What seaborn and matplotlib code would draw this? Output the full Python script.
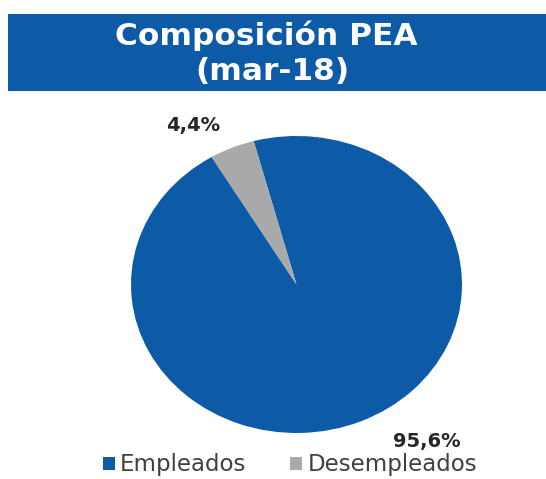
import matplotlib
matplotlib.use("Agg")
import matplotlib.pyplot as plt
from matplotlib.patches import Rectangle
import seaborn as sns

categories = ["Empleados", "Desempleados"]
shares = [95.6, 4.4]
value_labels = ["95,6%", "4,4%"]
title_lines = ["Composición PEA", "(mar-18)"]

sns.set_theme(style="white")
plt.rcParams["font.family"] = ["DejaVu Sans"]

blue = "#0d5ba6"
grey = "#a9a9a9"
colors = [blue, grey]

fig = plt.figure(figsize=(5.46, 4.79), dpi=100)
fig.patch.set_facecolor("white")

# title banner
banner = Rectangle((8 / 546, 1 - 91 / 479), 1 - 8 / 546, 77 / 479,
                   transform=fig.transFigure, facecolor=blue, edgecolor="none")
fig.patches.append(banner)
fig.text(266 / 546, 1 - 36 / 479, title_lines[0], ha="center", va="center",
         color="white", fontsize=22.5, fontweight="bold")
fig.text(272 / 546, 1 - 72 / 479, title_lines[1], ha="center", va="center",
         color="white", fontsize=22.5, fontweight="bold")

# pie (slightly elliptical)
ax = fig.add_axes([131 / 546, 1 - 433 / 479, 331 / 546, 297 / 479])
wedges, _ = ax.pie(shares, colors=colors, startangle=105, counterclock=False,
                   wedgeprops=dict(linewidth=0))
ax.set_aspect("auto")
ax.set_xlim(-1, 1)
ax.set_ylim(-1, 1)
ax.axis("off")

# value labels
label_pos = [(427 / 546, 1 - 441 / 479), (193 / 546, 1 - 125 / 479)]
for txt, (x, y) in zip(value_labels, label_pos):
    fig.text(x, y, txt, ha="center", va="center", fontsize=14,
             fontweight="bold", color="#262626")

leg = fig.legend(wedges, categories, loc="center", ncol=2, frameon=False,
                 bbox_to_anchor=(290 / 546, 1 - 465 / 479),
                 handlelength=0.5, handleheight=0.5, handletextpad=0.25,
                 columnspacing=1.9, fontsize=16.5)
for t in leg.get_texts():
    t.set_color("#404040")

fig.savefig("out.png", dpi=100)
